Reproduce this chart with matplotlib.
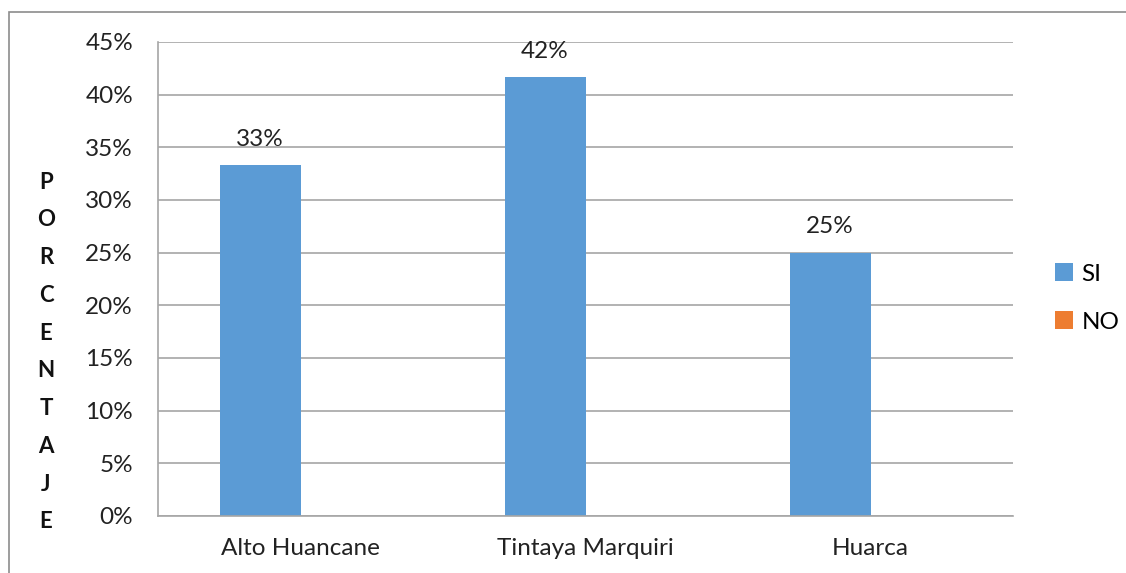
import matplotlib
matplotlib.use("Agg")
import matplotlib.pyplot as plt
from matplotlib.patches import Rectangle
import numpy as np

categories = ["Alto Huancane", "Tintaya Marquiri", "Huarca"]
si_values = [33.33, 41.67, 25.0]
no_values = [0.0, 0.0, 0.0]
si_labels = ["33%", "42%", "25%"]
yticks = [0, 5, 10, 15, 20, 25, 30, 35, 40, 45]
ylabel_letters = list("PORCENTAJE")

plt.rcParams['font.family'] = ['Lato', 'DejaVu Sans']

W, H = 1126, 573
fig = plt.figure(figsize=(W / 100, H / 100), dpi=100)
ax = fig.add_axes([158 / W, 1 - 516 / H, (1013 - 158) / W, (516 - 42) / H])

x = np.arange(len(categories))
bw = 0.284
blue = "#5B9BD5"
orange = "#ED7D31"
fs = 17.5
b1 = ax.bar(x - bw / 2, si_values, bw, color=blue, label="SI")
b2 = ax.bar(x + bw / 2, no_values, bw, color=orange, label="NO")

for rect, lab in zip(b1, si_labels):
    ax.annotate(lab, (rect.get_x() + rect.get_width() / 2, rect.get_height()),
                xytext=(0, 11), textcoords="offset points", ha="center", va="bottom",
                fontsize=fs, color="#222222")

ax.set_xlim(-0.5, len(categories) - 0.5)
ax.set_ylim(0, 45)
ax.set_yticks(yticks)
ax.set_yticklabels([f"{v}%" for v in yticks], fontsize=fs, color="#222222")
ax.set_xticks(x)
ax.set_xticklabels(categories, fontsize=fs, color="#222222")
ax.tick_params(axis="both", length=0)
ax.tick_params(axis="y", pad=18)
ax.tick_params(axis="x", pad=16)
ax.grid(axis="y", color="#A6A6A6", linewidth=1.2)
ax.set_axisbelow(True)
for s in ["top", "right"]:
    ax.spines[s].set_visible(False)
for s in ["left", "bottom"]:
    ax.spines[s].set_color("#A6A6A6")
    ax.spines[s].set_linewidth(1.2)

# stacked vertical y label
n = len(ylabel_letters)
y0, y1 = 182, 522
for i, ch in enumerate(ylabel_letters):
    yy = y0 + (y1 - y0) * i / (n - 1)
    fig.text(46 / W, 1 - yy / H, ch, ha="center", va="center", fontsize=16,
             fontweight="bold", color="#111111")

leg = ax.legend(loc="center left", bbox_to_anchor=(1.023, 0.46), frameon=False,
                fontsize=fs, handlelength=0.75, handleheight=0.75, labelspacing=1.1,
                handletextpad=0.35)

fig.add_artist(Rectangle((9 / W, -0.1), 1.2, 1 - 12 / H + 0.1, transform=fig.transFigure,
                         fill=False, edgecolor="#8C8C8C", linewidth=1.2))

fig.savefig("out.png", dpi=100)
